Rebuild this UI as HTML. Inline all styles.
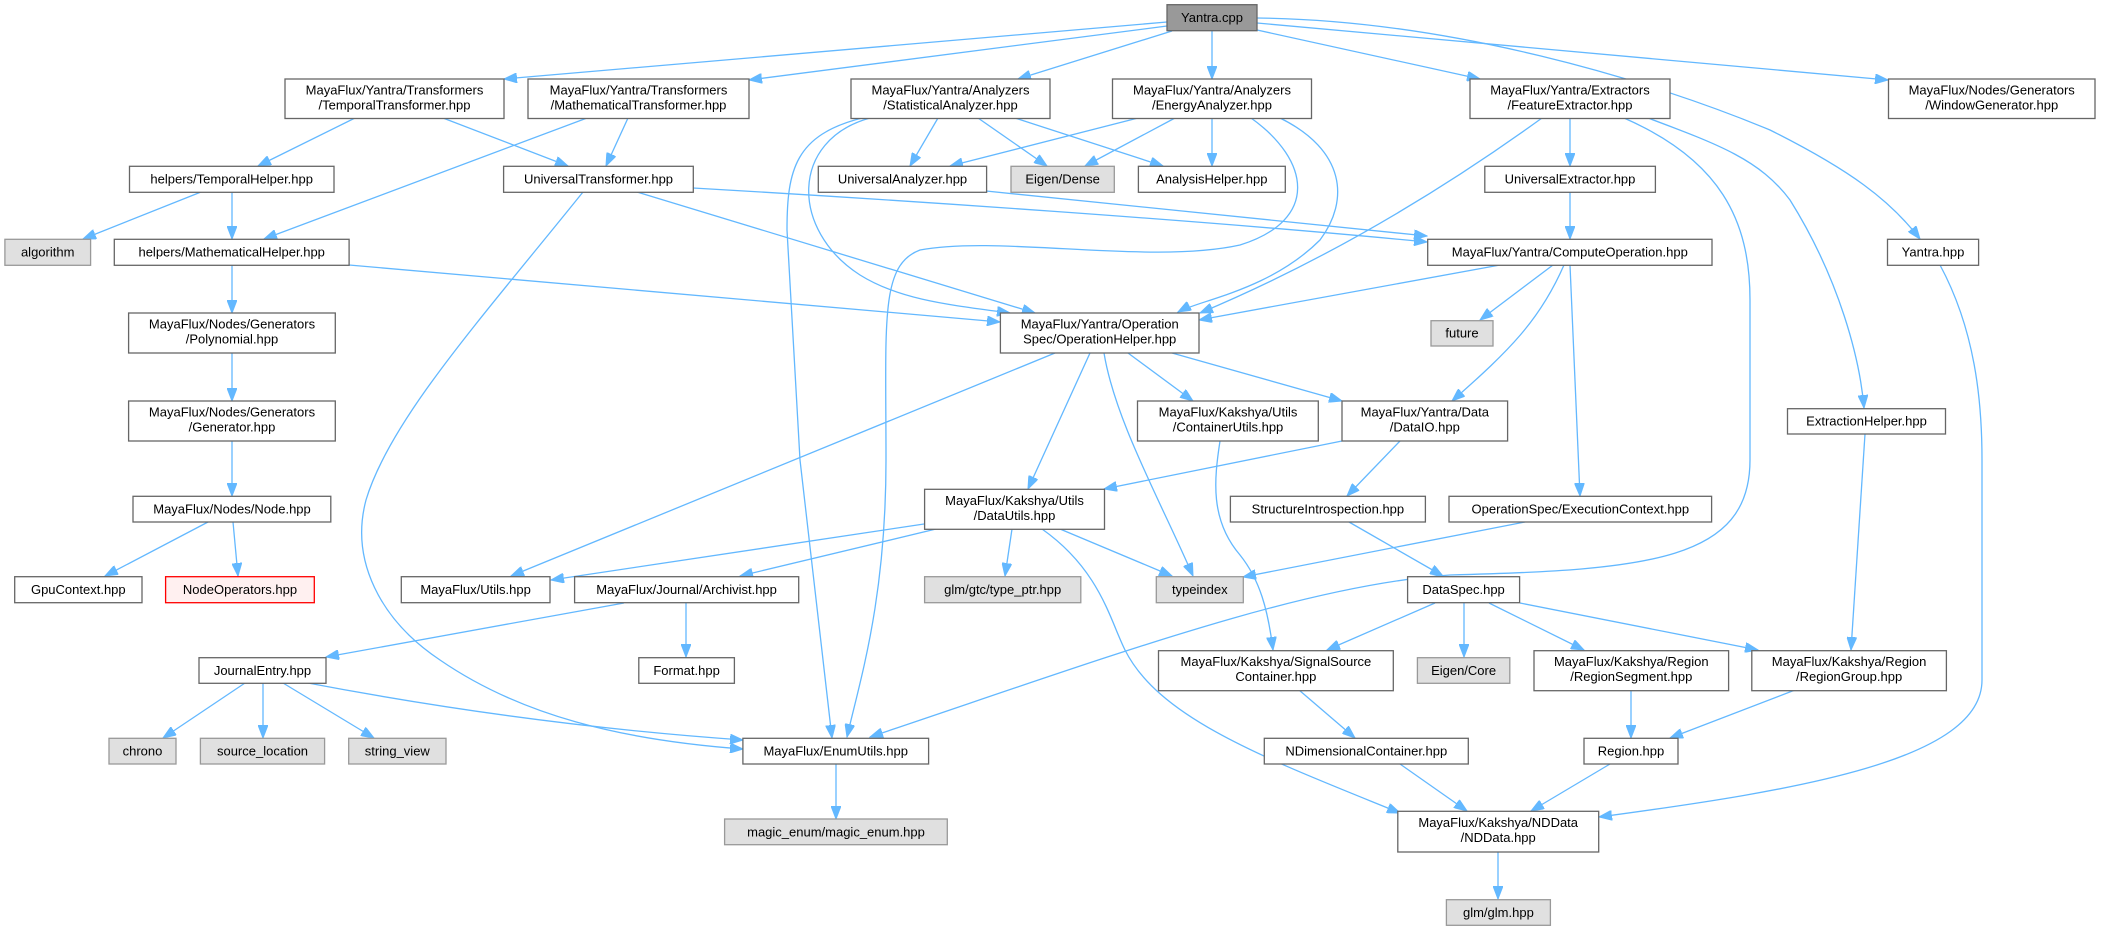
<!DOCTYPE html>
<html><head><meta charset="utf-8"><style>
html,body{margin:0;padding:0;background:#fff;}
svg{display:block;}
text{font-family:"Liberation Sans",sans-serif;font-size:13px;fill:#000;text-anchor:middle;}
.n{fill:#fff;stroke:#666;stroke-width:1.3;}
.g{fill:#e0e0e0;stroke:#999;stroke-width:1.3;}
.r{fill:#fff0f0;stroke:#f00;stroke-width:1.3;}
.root{fill:#999;stroke:#666;stroke-width:1.3;}
path.e{fill:none;stroke:#63b8ff;stroke-width:1.3;marker-end:url(#a);}
</style></head><body>
<svg width="2102" height="931" viewBox="0 0 2102 931" xmlns="http://www.w3.org/2000/svg">
<defs><marker id="a" markerUnits="userSpaceOnUse" markerWidth="14" markerHeight="10" refX="13" refY="5" orient="auto"><path d="M0,0 L13,5 L0,10 z" fill="#63b8ff" stroke="#63b8ff"/></marker></defs>
<!-- edges -->
<path class="e" d="M1167,22 L504,79"/>
<path class="e" d="M1167,26 L749,80"/>
<path class="e" d="M1172,31 L1018,79"/>
<path class="e" d="M1212,31 L1212,79"/>
<path class="e" d="M1257,30 L1480,79"/>
<path class="e" d="M1257,23 L1888,80"/>
<path class="e" d="M1257,18 C1450,20 1650,80 1770,130 C1850,170 1890,200 1920,239"/>
<path class="e" d="M355,118 L258,166"/>
<path class="e" d="M443,118 L568,166"/>
<path class="e" d="M587,118 L264,239"/>
<path class="e" d="M628,118 L606,166"/>
<path class="e" d="M201,192 L83,239"/>
<path class="e" d="M232,192 L232,239"/>
<path class="e" d="M693,188 C900,200 1200,220 1427,242"/>
<path class="e" d="M637,192 L1035,313"/>
<path class="e" d="M583,192 C480,320 390,420 366,500 C350,560 380,620 440,660 C520,715 620,740 743,749"/>
<path class="e" d="M232,265 L232,313"/>
<path class="e" d="M349,265 L1000,322"/>
<path class="e" d="M232,353 L232,401"/>
<path class="e" d="M232,441 L232,496"/>
<path class="e" d="M208,522 L105,576"/>
<path class="e" d="M233,522 L238,576"/>
<path class="e" d="M938,118 L910,166"/>
<path class="e" d="M978,118 L1047,166"/>
<path class="e" d="M1015,118 L1163,166"/>
<path class="e" d="M870,118 C790,140 790,230 860,275 C900,300 950,305 1010,313"/>
<path class="e" d="M862,118 C795,135 787,170 787,230 L800,460 L832,738"/>
<path class="e" d="M1138,118 L950,166"/>
<path class="e" d="M1175,118 L1085,166"/>
<path class="e" d="M1212,118 L1212,166"/>
<path class="e" d="M1251,118 C1310,160 1320,220 1240,245 C1150,265 1000,235 920,250 C880,265 886,320 886,460 C886,600 860,680 847,737"/>
<path class="e" d="M1280,118 C1345,150 1350,200 1320,240 C1270,290 1200,300 1178,312"/>
<path class="e" d="M1542,118 C1470,170 1350,250 1200,313"/>
<path class="e" d="M986,191 L1427,236"/>
<path class="e" d="M1500,265 L1199,320"/>
<path class="e" d="M1553,265 L1480,320"/>
<path class="e" d="M1564,265 C1540,320 1510,350 1452,401"/>
<path class="e" d="M1570,265 L1580,496"/>
<path class="e" d="M1570,118 L1570,166"/>
<path class="e" d="M1570,192 L1570,239"/>
<path class="e" d="M1624,118 C1720,160 1750,220 1750,300 L1750,460 C1750,560 1650,570 1450,575 C1300,585 1100,660 870,737"/>
<path class="e" d="M1648,118 C1720,145 1760,160 1790,200 C1840,280 1860,360 1864,408"/>
<path class="e" d="M1940,265 C1975,330 1982,400 1982,460 L1982,680 C1982,760 1800,790 1599,817"/>
<path class="e" d="M1865,434 L1851,650"/>
<path class="e" d="M1055,353 L511,576"/>
<path class="e" d="M1090,353 L1028,489"/>
<path class="e" d="M1104,353 C1115,420 1160,500 1193,576"/>
<path class="e" d="M1128,353 L1193,401"/>
<path class="e" d="M1172,353 L1342,401"/>
<path class="e" d="M1220,441 C1214,480 1210,520 1240,555 C1260,580 1268,610 1273,650"/>
<path class="e" d="M1342,441 L1104,489"/>
<path class="e" d="M1400,441 L1347,496"/>
<path class="e" d="M924,524 L551,580"/>
<path class="e" d="M936,529 L740,576"/>
<path class="e" d="M1012,529 L1005,576"/>
<path class="e" d="M1060,529 L1172,576"/>
<path class="e" d="M1042,529 C1100,570 1110,620 1125,650 C1160,720 1270,760 1400,813"/>
<path class="e" d="M1349,522 L1443,576"/>
<path class="e" d="M1525,522 L1243,577"/>
<path class="e" d="M1435,603 L1327,650"/>
<path class="e" d="M1464,603 L1464,657"/>
<path class="e" d="M1489,603 L1584,650"/>
<path class="e" d="M1520,603 L1758,650"/>
<path class="e" d="M624,603 L326,657"/>
<path class="e" d="M686,603 L686,657"/>
<path class="e" d="M245,683 L163,738"/>
<path class="e" d="M263,683 L263,738"/>
<path class="e" d="M283,683 L374,738"/>
<path class="e" d="M308,683 C450,710 600,730 743,740"/>
<path class="e" d="M1299,690 L1355,738"/>
<path class="e" d="M1400,764 L1467,811"/>
<path class="e" d="M1631,690 L1631,738"/>
<path class="e" d="M1795,690 L1670,738"/>
<path class="e" d="M1610,764 L1531,811"/>
<path class="e" d="M836,764 L836,819"/>
<path class="e" d="M1498,852 L1498,899"/>
<!-- nodes -->
<rect class="root" x="1167" y="4.7" width="90" height="26"/><text x="1212" y="22">Yantra.cpp</text>
<rect class="n" x="285" y="79" width="219" height="39.5"/><text x="394.5" y="94.5">MayaFlux/Yantra/Transformers</text><text x="394.5" y="109.5">/TemporalTransformer.hpp</text>
<rect class="n" x="528" y="79" width="221" height="39.5"/><text x="638.5" y="94.5">MayaFlux/Yantra/Transformers</text><text x="638.5" y="109.5">/MathematicalTransformer.hpp</text>
<rect class="n" x="851" y="79" width="199" height="39.5"/><text x="950.5" y="94.5">MayaFlux/Yantra/Analyzers</text><text x="950.5" y="109.5">/StatisticalAnalyzer.hpp</text>
<rect class="n" x="1112.5" y="79" width="199" height="39.5"/><text x="1212" y="94.5">MayaFlux/Yantra/Analyzers</text><text x="1212" y="109.5">/EnergyAnalyzer.hpp</text>
<rect class="n" x="1470" y="79" width="200" height="39.5"/><text x="1570" y="94.5">MayaFlux/Yantra/Extractors</text><text x="1570" y="109.5">/FeatureExtractor.hpp</text>
<rect class="n" x="1888.5" y="79" width="206.5" height="39.5"/><text x="1991.7" y="94.5">MayaFlux/Nodes/Generators</text><text x="1991.7" y="109.5">/WindowGenerator.hpp</text>
<rect class="n" x="129.5" y="166.3" width="204.5" height="26"/><text x="231.7" y="183.5">helpers/TemporalHelper.hpp</text>
<rect class="n" x="503.6" y="166.3" width="189.7" height="26"/><text x="598.5" y="183.5">UniversalTransformer.hpp</text>
<rect class="n" x="818.3" y="166.3" width="168.3" height="26"/><text x="902.5" y="183.5">UniversalAnalyzer.hpp</text>
<rect class="g" x="1011" y="166.3" width="103.3" height="26"/><text x="1062.6" y="183.5">Eigen/Dense</text>
<rect class="n" x="1138.4" y="166.3" width="146.9" height="26"/><text x="1211.8" y="183.5">AnalysisHelper.hpp</text>
<rect class="n" x="1484.8" y="166.3" width="170.6" height="26"/><text x="1570" y="183.5">UniversalExtractor.hpp</text>
<rect class="g" x="4.9" y="239.3" width="85.7" height="26"/><text x="47.7" y="256.5">algorithm</text>
<rect class="n" x="114.3" y="239.3" width="234.8" height="26"/><text x="231.7" y="256.5">helpers/MathematicalHelper.hpp</text>
<rect class="n" x="1427.7" y="239.3" width="284.3" height="26"/><text x="1569.8" y="256.5">MayaFlux/Yantra/ComputeOperation.hpp</text>
<rect class="n" x="1887.5" y="239.3" width="91.1" height="26"/><text x="1933" y="256.5">Yantra.hpp</text>
<rect class="n" x="128.6" y="313" width="206.7" height="40"/><text x="232" y="328.5">MayaFlux/Nodes/Generators</text><text x="232" y="343.5">/Polynomial.hpp</text>
<rect class="n" x="1000.4" y="313" width="198.6" height="40"/><text x="1099.7" y="328.5">MayaFlux/Yantra/Operation</text><text x="1099.7" y="343.5">Spec/OperationHelper.hpp</text>
<rect class="g" x="1431" y="320.7" width="62" height="25.3"/><text x="1462" y="337.5">future</text>
<rect class="n" x="128.6" y="401" width="206.7" height="40"/><text x="232" y="416.5">MayaFlux/Nodes/Generators</text><text x="232" y="431.5">/Generator.hpp</text>
<rect class="n" x="1137.5" y="401" width="180.8" height="40"/><text x="1228" y="416.5">MayaFlux/Kakshya/Utils</text><text x="1228" y="431.5">/ContainerUtils.hpp</text>
<rect class="n" x="1342" y="401" width="165.6" height="40"/><text x="1424.8" y="416.5">MayaFlux/Yantra/Data</text><text x="1424.8" y="431.5">/DataIO.hpp</text>
<rect class="n" x="1787.5" y="408.7" width="158" height="25.3"/><text x="1866.5" y="425.5">ExtractionHelper.hpp</text>
<rect class="n" x="133" y="496.3" width="197.8" height="25.7"/><text x="232" y="513.5">MayaFlux/Nodes/Node.hpp</text>
<rect class="n" x="924.6" y="489.3" width="179.9" height="40"/><text x="1014.5" y="504.8">MayaFlux/Kakshya/Utils</text><text x="1014.5" y="519.8">/DataUtils.hpp</text>
<rect class="n" x="1230.4" y="496.3" width="195" height="25.7"/><text x="1327.9" y="513.5">StructureIntrospection.hpp</text>
<rect class="n" x="1449" y="496.3" width="262.6" height="25.7"/><text x="1580.3" y="513.5">OperationSpec/ExecutionContext.hpp</text>
<rect class="n" x="14.7" y="576.7" width="127.3" height="26"/><text x="78.3" y="594">GpuContext.hpp</text>
<rect class="r" x="165.6" y="576.7" width="148.7" height="26"/><text x="240" y="594">NodeOperators.hpp</text>
<rect class="n" x="401.3" y="576.7" width="148.7" height="26"/><text x="475.6" y="594">MayaFlux/Utils.hpp</text>
<rect class="n" x="574.6" y="576.7" width="224.1" height="26"/><text x="686.6" y="594">MayaFlux/Journal/Archivist.hpp</text>
<rect class="g" x="924.6" y="576.7" width="156.2" height="26"/><text x="1002.7" y="594">glm/gtc/type_ptr.hpp</text>
<rect class="g" x="1156.3" y="576.7" width="87" height="26"/><text x="1199.8" y="594">typeindex</text>
<rect class="n" x="1407.6" y="576.7" width="112" height="26"/><text x="1463.6" y="594">DataSpec.hpp</text>
<rect class="n" x="1158.5" y="650.7" width="234.8" height="40"/><text x="1275.9" y="666.2">MayaFlux/Kakshya/SignalSource</text><text x="1275.9" y="681.2">Container.hpp</text>
<rect class="n" x="1534" y="650.7" width="194.6" height="40"/><text x="1631.3" y="666.2">MayaFlux/Kakshya/Region</text><text x="1631.3" y="681.2">/RegionSegment.hpp</text>
<rect class="n" x="1751.8" y="650.7" width="194.6" height="40"/><text x="1849.1" y="666.2">MayaFlux/Kakshya/Region</text><text x="1849.1" y="681.2">/RegionGroup.hpp</text>
<rect class="n" x="199" y="657.7" width="127" height="25.6"/><text x="262.5" y="675">JournalEntry.hpp</text>
<rect class="n" x="638.8" y="657.7" width="95.6" height="25.6"/><text x="686.6" y="675">Format.hpp</text>
<rect class="g" x="1417.4" y="657.7" width="92.4" height="25.6"/><text x="1463.6" y="675">Eigen/Core</text>
<rect class="g" x="109" y="738.3" width="67" height="25.7"/><text x="142.5" y="755.5">chrono</text>
<rect class="g" x="200.4" y="738.3" width="124.2" height="25.7"/><text x="262.5" y="755.5">source_location</text>
<rect class="g" x="348.7" y="738.3" width="97.3" height="25.7"/><text x="397.3" y="755.5">string_view</text>
<rect class="n" x="742.9" y="738.3" width="185.7" height="25.7"/><text x="835.7" y="755.5">MayaFlux/EnumUtils.hpp</text>
<rect class="n" x="1264.3" y="738.3" width="204" height="25.7"/><text x="1366.3" y="755.5">NDimensionalContainer.hpp</text>
<rect class="n" x="1584" y="738.3" width="94" height="25.7"/><text x="1631" y="755.5">Region.hpp</text>
<rect class="n" x="1397.8" y="811.3" width="200.9" height="40.7"/><text x="1498.2" y="827">MayaFlux/Kakshya/NDData</text><text x="1498.2" y="842">/NDData.hpp</text>
<rect class="g" x="724.6" y="819" width="222.7" height="25.7"/><text x="836" y="836.3">magic_enum/magic_enum.hpp</text>
<rect class="g" x="1446.4" y="899.7" width="104" height="25.6"/><text x="1498.4" y="917">glm/glm.hpp</text>
</svg>
</body></html>
